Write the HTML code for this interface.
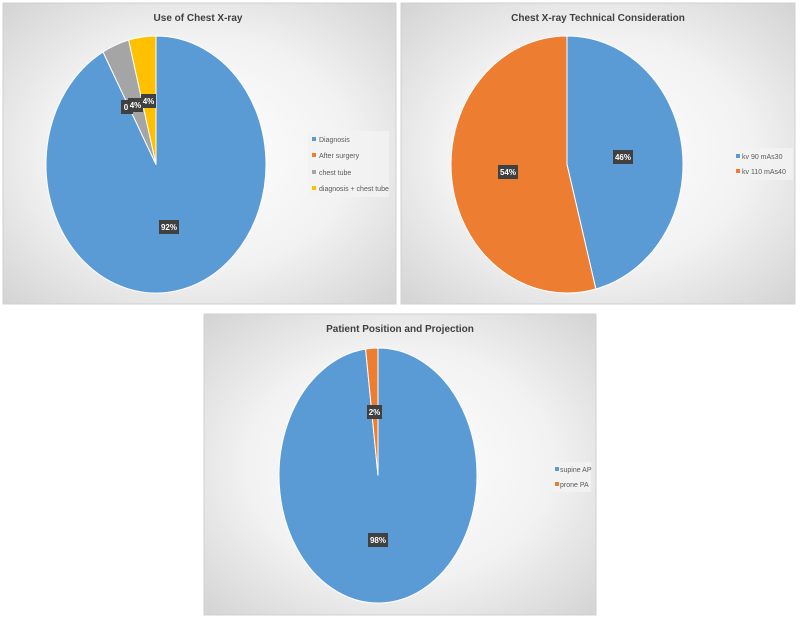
<!DOCTYPE html>
<html><head><meta charset="utf-8"><style>
body{margin:0;background:#fff;width:800px;height:625px;overflow:hidden}
svg{display:block}
text{font-family:"Liberation Sans",sans-serif}
</style></head><body>
<svg width="800" height="625" viewBox="0 0 800 625">
<defs>
<radialGradient id="bg" cx="0.5" cy="0.5" r="0.7">
<stop offset="0" stop-color="#ffffff"/><stop offset="0.55" stop-color="#f2f2f2"/><stop offset="1" stop-color="#d4d4d4"/>
</radialGradient>
</defs>
<rect x="0" y="0" width="800" height="625" fill="#fff"/>
<rect x="3" y="3" width="393" height="301" fill="url(#bg)" stroke="#d0d0d0"/>
<rect x="401" y="3" width="394" height="301" fill="url(#bg)" stroke="#d0d0d0"/>
<rect x="204" y="314" width="392" height="301" fill="url(#bg)" stroke="#d0d0d0"/>

<g font-weight="bold" font-size="10" fill="#404040" text-anchor="middle">
<text x="198" y="21">Use of Chest X-ray</text>
<text x="598" y="21">Chest X-ray Technical Consideration</text>
<text x="400" y="332">Patient Position and Projection</text>
</g>

<!-- pie 1 -->
<g transform="translate(156,164.5) scale(110,128.5)">
<path d="M0,0 L0,-1 A1,1 0 1 1 -0.4818,-0.8763 Z" fill="#5b9bd5" stroke="#fff" vector-effect="non-scaling-stroke"/>
<path d="M0,0 L-0.4818,-0.8763 A1,1 0 0 1 -0.2487,-0.9686 Z" fill="#a5a5a5" stroke="#fff" vector-effect="non-scaling-stroke"/>
<path d="M0,0 L-0.2487,-0.9686 A1,1 0 0 1 0,-1 Z" fill="#ffc000" stroke="#fff" vector-effect="non-scaling-stroke"/>
</g>
<!-- pie 2 -->
<g transform="translate(567,164.5) scale(116,128.5)">
<path d="M0,0 L0,-1 A1,1 0 0 1 0.2487,0.9686 Z" fill="#5b9bd5" stroke="#fff" vector-effect="non-scaling-stroke"/>
<path d="M0,0 L0.2487,0.9686 A1,1 0 1 1 0,-1 Z" fill="#ed7d31" stroke="#fff" vector-effect="non-scaling-stroke"/>
</g>
<!-- pie 3 -->
<g transform="translate(378,475.5) scale(99,127.5)">
<path d="M0,0 L0,-1 A1,1 0 1 1 -0.1253,-0.9921 Z" fill="#5b9bd5" stroke="#fff" vector-effect="non-scaling-stroke"/>
<path d="M0,0 L-0.1253,-0.9921 A1,1 0 0 1 0,-1 Z" fill="#ed7d31" stroke="#fff" vector-effect="non-scaling-stroke"/>
</g>

<!-- data labels -->
<g font-size="8" font-weight="bold" fill="#fff" text-anchor="middle">
<rect x="121" y="100" width="12" height="14" fill="#404040"/><text x="126" y="110">0</text>
<rect x="128" y="98" width="15" height="14" fill="#404040"/><text x="135.5" y="108">4%</text>
<rect x="141" y="94" width="15" height="14" fill="#404040"/><text x="148.5" y="104">4%</text>
<rect x="159" y="220" width="20" height="14" fill="#404040"/><text x="169" y="230">92%</text>
<rect x="613" y="150" width="20" height="14" fill="#404040"/><text x="623" y="160">46%</text>
<rect x="498" y="165" width="20" height="14" fill="#404040"/><text x="508" y="175">54%</text>
<rect x="367" y="405" width="15" height="14" fill="#404040"/><text x="374.5" y="415">2%</text>
<rect x="368" y="533" width="20" height="14" fill="#404040"/><text x="378" y="543">98%</text>
</g>

<!-- legends -->
<g font-size="7" fill="#595959">
<rect x="308" y="131" width="81" height="66" fill="#f2f2f2" opacity="0.8"/>
<rect x="312" y="137" width="4" height="4" fill="#5b9bd5"/><text x="319" y="142">Diagnosis</text>
<rect x="312" y="153" width="4" height="4" fill="#ed7d31"/><text x="319" y="158">After surgery</text>
<rect x="312" y="170" width="4" height="4" fill="#a5a5a5"/><text x="319" y="175">chest tube</text>
<rect x="312" y="186" width="4" height="4" fill="#ffc000"/><text x="319" y="191">diagnosis + chest tube</text>

<rect x="733" y="148" width="60" height="32" fill="#f2f2f2" opacity="0.8"/>
<rect x="736" y="154" width="4" height="4" fill="#5b9bd5"/><text x="742" y="159">kv 90 mAs30</text>
<rect x="736" y="169" width="4" height="4" fill="#ed7d31"/><text x="742" y="174">kv 110 mAs40</text>

<rect x="552" y="462" width="39" height="30" fill="#f2f2f2" opacity="0.8"/>
<rect x="555" y="467" width="4" height="4" fill="#5b9bd5"/><text x="560" y="472">supine AP</text>
<rect x="555" y="482" width="4" height="4" fill="#ed7d31"/><text x="560" y="487">prone PA</text>
</g>
</svg>
</body></html>
